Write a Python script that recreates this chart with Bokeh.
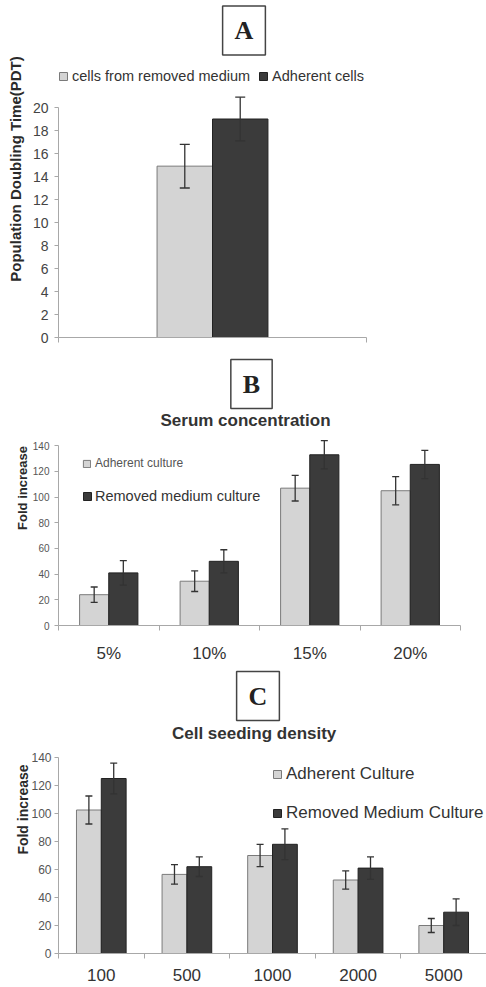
from bokeh.plotting import figure
from bokeh.models import (Range1d, LinearAxis, FixedTicker, ColumnDataSource,
                          Whisker, TeeHead, Legend, LegendItem, Label)
from bokeh.layouts import column
from bokeh.embed import file_html
from bokeh.resources import INLINE

# ---------------- data ----------------
a_series = ["cells from removed medium", "Adherent cells"]
a_pdt = [14.9, 19.0]
a_err = [1.9, 1.9]
a_ticks = [0, 2, 4, 6, 8, 10, 12, 14, 16, 18, 20]

b_categories = ["5%", "10%", "15%", "20%"]
b_series = ["Adherent culture", "Removed medium culture"]
b_adherent = [24, 34.5, 107, 105]
b_adherent_err = [6, 8, 10, 11]
b_removed = [41, 50, 133, 125.5]
b_removed_err = [9.5, 9, 11, 11]

c_categories = ["100", "500", "1000", "2000", "5000"]
c_series = ["Adherent Culture", "Removed Medium Culture"]
c_adherent = [102.5, 56.5, 70, 52.5, 20]
c_adherent_err = [10, 7, 8, 6.5, 5]
c_removed = [125, 62, 78, 61, 29.5]
c_removed_err = [11, 7, 11, 8, 9.5]

bc_ticks = [0, 20, 40, 60, 80, 100, 120, 140]

# ---------------- style / layout ----------------
FONT = "Liberation Sans"
SERIF = "Liberation Serif"
LIGHT, LIGHT_LINE = "#d4d4d4", "#7a7a7a"
DARK, DARK_LINE = "#3b3b3b", "#222222"
AXIS = "#a8a8a8"
ERR = "#333333"
W = 486
LEFT, RIGHT = 58, 0
FRAME_W = W - LEFT - RIGHT


def base_fig(height, bottom, n_cat, axis_w, ymax, axis_h):
    frame_h = height - bottom
    p = figure(width=W, height=height,
               x_range=Range1d(0, n_cat * FRAME_W / axis_w),
               y_range=Range1d(0, ymax * frame_h / axis_h),
               x_axis_type=None, y_axis_type=None, toolbar_location=None,
               output_backend="svg", min_border_left=LEFT, min_border_right=RIGHT,
               min_border_top=0, min_border_bottom=bottom)
    p.outline_line_color = None
    p.background_fill_color = "white"
    p.border_fill_color = "white"
    return p


def y_axis(p, ticks, label, tick_size, tick_color, tick_standoff, lab_size, lab_standoff):
    ax = LinearAxis(ticker=FixedTicker(ticks=ticks, minor_ticks=[]),
                    bounds=(ticks[0], ticks[-1]),
                    axis_line_color=AXIS, major_tick_line_color=AXIS,
                    major_tick_out=4, major_tick_in=0, minor_tick_line_color=None,
                    major_label_text_font=FONT, major_label_text_font_size=tick_size,
                    major_label_text_color=tick_color, major_label_standoff=tick_standoff,
                    axis_label=label, axis_label_text_font=FONT,
                    axis_label_text_font_style="bold", axis_label_text_font_size=lab_size,
                    axis_label_text_color="#2a2a2a", axis_label_standoff=lab_standoff)
    p.add_layout(ax, "left")


def x_axis(p, labels, n, size, standoff):
    centers = [i + 0.5 for i in range(n)] if labels else []
    ax = LinearAxis(ticker=FixedTicker(ticks=centers, minor_ticks=list(range(n + 1))),
                    bounds=(0, n),
                    major_label_overrides={c: l for c, l in zip(centers, labels)},
                    axis_line_color=AXIS, major_tick_line_color=None,
                    major_tick_out=0, major_tick_in=0,
                    minor_tick_line_color=AXIS, minor_tick_out=5, minor_tick_in=0,
                    major_label_text_font=FONT, major_label_text_font_size=size,
                    major_label_text_color="#333333", major_label_standoff=standoff)
    p.add_layout(ax, "below")


def bars(p, xs, vals, errs, width, fill, line, cap):
    src = ColumnDataSource(dict(x=xs, top=vals,
                                upper=[v + e for v, e in zip(vals, errs)],
                                lower=[v - e for v, e in zip(vals, errs)]))
    r = p.vbar(x="x", top="top", bottom=0, width=width, source=src,
               fill_color=fill, line_color=line, line_width=1)
    w = Whisker(source=src, base="x", upper="upper", lower="lower", level="overlay",
                line_color=ERR, line_width=1.3,
                upper_head=TeeHead(size=cap, line_color=ERR, line_width=1.3),
                lower_head=TeeHead(size=cap, line_color=ERR, line_width=1.3))
    p.add_layout(w)
    return r


def legend(p, items, x, y, size, color, glyph, standoff=4, orientation="vertical", spacing=0):
    lg = Legend(items=[LegendItem(label=t, renderers=[r]) for t, r in items],
                location=(x, y), orientation=orientation,
                label_text_font=FONT, label_text_font_size=size, label_text_color=color,
                glyph_width=glyph, glyph_height=glyph, label_height=glyph,
                label_standoff=standoff, spacing=spacing, padding=0, margin=0,
                border_line_color=None, background_fill_alpha=0)
    p.add_layout(lg)


def letter_box(p, letter, x, y):
    p.add_layout(Label(x=x, y=y, x_units="screen", y_units="screen", text=letter,
                       text_font=SERIF, text_font_style="bold", text_font_size="26px",
                       text_color="#222222", text_align="center", text_baseline="middle",
                       border_line_color="#444444", border_line_width=1.5,
                       background_fill_color="white", padding=(12, 10)))


def title(p, text, x, y, size):
    p.add_layout(Label(x=x, y=y, x_units="screen", y_units="screen", text=text,
                       text_font=FONT, text_font_style="bold", text_font_size=size,
                       text_color="#333333", text_align="center", text_baseline="middle"))


# ---------------- panel A ----------------
pA = base_fig(350, 13, 1, 308, 20, 230)
y_axis(pA, a_ticks, "Population Doubling Time(PDT)", "14px", "#444444", 6, "15px", 6)
x_axis(pA, [], 1, "1px", 0)
rA1 = bars(pA, [0.5 - 0.09], [a_pdt[0]], [a_err[0]], 0.18, LIGHT, LIGHT_LINE, 10)
rA2 = bars(pA, [0.5 + 0.09], [a_pdt[1]], [a_err[1]], 0.18, DARK, DARK_LINE, 10)
legend(pA, [(a_series[0], rA1), (a_series[1], rA2)], 0, 253.5, "14.5px", "#333333", 10,
       orientation="horizontal", spacing=8)
letter_box(pA, "A", 185.5, 307)

# ---------------- panel B ----------------
nB = len(b_categories)
pB = base_fig(315, 38, nB, 402, 140, 181)
y_axis(pB, bc_ticks, "Fold increase", "10px", "#555555", 5, "13px", 0)
x_axis(pB, b_categories, nB, "17px", 13)
rB1 = bars(pB, [i + 0.355 for i in range(nB)], b_adherent, b_adherent_err, 0.29,
           LIGHT, LIGHT_LINE, 7)
rB2 = bars(pB, [i + 0.645 for i in range(nB)], b_removed, b_removed_err, 0.29,
           DARK, DARK_LINE, 7)
legend(pB, [(b_series[0], rB1)], 24, 155, "12px", "#555555", 9, standoff=4)
legend(pB, [(b_series[1], rB2)], 24, 121.5, "14.5px", "#333333", 10, standoff=3)
letter_box(pB, "B", 193, 241.5)
title(pB, "Serum concentration", 187, 205, "17px")

# ---------------- panel C ----------------
nC = len(c_categories)
pC = base_fig(322, 34, nC, FRAME_W, 140, 196)
y_axis(pC, bc_ticks, "Fold increase", "12px", "#555555", 3, "14px", -3)
x_axis(pC, c_categories, nC, "17px", 10)
rC1 = bars(pC, [i + 0.355 for i in range(nC)], c_adherent, c_adherent_err, 0.29,
           LIGHT, LIGHT_LINE, 7)
rC2 = bars(pC, [i + 0.645 for i in range(nC)], c_removed, c_removed_err, 0.29,
           DARK, DARK_LINE, 7)
legend(pC, [(c_series[0], rC1)], 214, 169.5, "17px", "#333333", 10, standoff=4)
legend(pC, [(c_series[1], rC2)], 214, 130.5, "17px", "#333333", 10, standoff=4)
letter_box(pC, "C", 199.5, 257.5)
title(pC, "Cell  seeding density", 198, 220, "17px")

layout = column(pA, pB, pC, spacing=0)
open("out.html", "w").write(file_html(layout, INLINE))
